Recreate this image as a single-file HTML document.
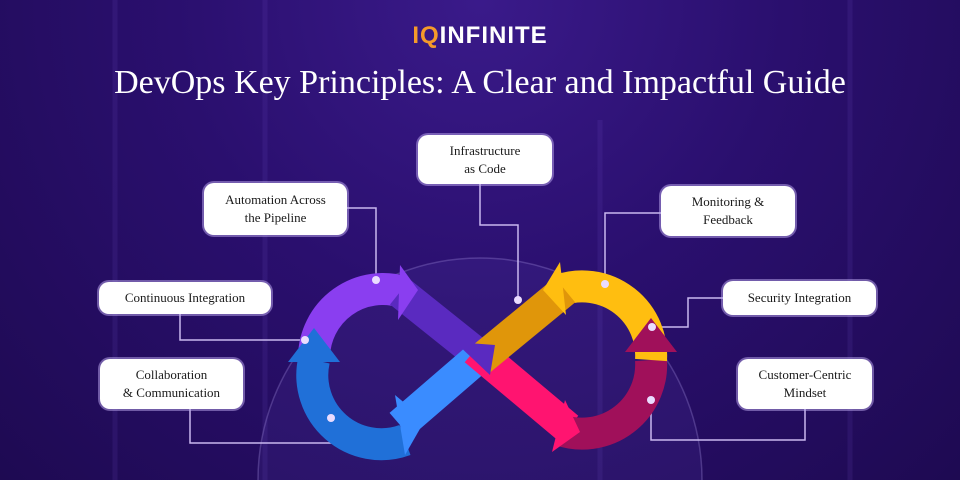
<!DOCTYPE html>
<html><head><meta charset="utf-8"><style>
html,body{margin:0;padding:0;overflow:hidden}
body{width:960px;height:480px;overflow:hidden;background:radial-gradient(ellipse at 50% 0%,#3a1a8a 0%,#2a0f6e 45%,#1e0a52 100%);position:relative;font-family:"Liberation Serif",serif}
.box{position:absolute;background:#fff;border-radius:10px;color:#1a1a1a;font-size:13px;line-height:18px;text-align:center;display:flex;align-items:center;justify-content:center;box-shadow:0 0 0 2px rgba(190,170,240,.5)}
.logo{position:absolute;top:22px;left:0;width:960px;text-align:center;font-family:"Liberation Sans",sans-serif;font-size:24px;letter-spacing:1px;color:#fff;font-weight:bold}
.title{position:absolute;top:64px;left:0;width:960px;text-align:center;color:#fff;font-size:34px;white-space:nowrap}
</style></head><body>
<svg width="960" height="480" style="position:absolute;left:0;top:0">
<g stroke="rgba(120,90,210,.12)" stroke-width="5">
<line x1="115" y1="0" x2="115" y2="480"/><line x1="265" y1="0" x2="265" y2="480"/><line x1="600" y1="120" x2="600" y2="480"/><line x1="850" y1="0" x2="850" y2="480"/>
</g>
<circle cx="480" cy="480" r="222" fill="rgba(110,80,200,.12)" stroke="rgba(170,150,230,.3)" stroke-width="1.5"/>
<g fill="none" stroke="#c9b8ef" stroke-width="1.5">
<polyline points="347,208 376,208 376,280"/>
<polyline points="480,184 480,225 518,225 518,300"/>
<polyline points="661,213 605,213 605,284"/>
<polyline points="180,314 180,340 305,340"/>
<polyline points="723,298 688,298 688,327 652,327"/>
<polyline points="190,409 190,443 331,443 331,418"/>
<polyline points="651,400 651,440 805,440 805,409"/>
</g>
<g fill="none" stroke-width="32">
<path d="M405 440 A69 69 0 0 1 314 360" stroke="#2070d8"/>
<path d="M314 356 A69 69 0 0 1 403 292" stroke="#8a3ef0"/>
<path d="M400 292 L485 360" stroke="#5a2ac0"/>
<path d="M480 356 L400 425" stroke="#3a8cff"/>
<path d="M475 350 L568 428" stroke="#ff1470"/>
<path d="M560 430 A69 69 0 0 0 651 360" stroke="#a0105a"/>
<path d="M651 360 A69 69 0 0 0 560 290" stroke="#ffbe10"/>
<path d="M565 290 L480 360" stroke="#e0960a"/>
</g>
<g>
<polygon points="288,362 340,362 314,328" fill="#2070d8"/>
<polygon points="400,265 418,290 398,320" fill="#8a3ef0"/>
<polygon points="455,342 495,345 490,375" fill="#5a2ac0"/>
<polygon points="395,395 425,420 405,455" fill="#3a8cff"/>
<polygon points="565,400 580,432 552,452" fill="#ff1470"/>
<polygon points="625,352 677,352 651,318" fill="#a0105a"/>
<polygon points="560,262 543,290 566,315" fill="#ffbe10"/>
</g>
<g fill="#eadcff">
<circle cx="376" cy="280" r="4"/><circle cx="518" cy="300" r="4"/><circle cx="605" cy="284" r="4"/><circle cx="305" cy="340" r="4"/><circle cx="652" cy="327" r="4"/><circle cx="331" cy="418" r="4"/><circle cx="651" cy="400" r="4"/>
</g>
</svg>
<div class="logo"><span style="color:#f59a2a">IQ</span>INFINITE</div>
<div class="title">DevOps Key Principles: A Clear and Impactful Guide</div>
<div class="box" style="left:418px;top:135px;width:134px;height:49px">Infrastructure<br>as Code</div>
<div class="box" style="left:204px;top:183px;width:143px;height:52px">Automation Across<br>the Pipeline</div>
<div class="box" style="left:661px;top:186px;width:134px;height:50px">Monitoring &amp;<br>Feedback</div>
<div class="box" style="left:99px;top:282px;width:172px;height:32px">Continuous Integration</div>
<div class="box" style="left:723px;top:281px;width:153px;height:34px">Security Integration</div>
<div class="box" style="left:100px;top:359px;width:143px;height:50px">Collaboration<br>&amp; Communication</div>
<div class="box" style="left:738px;top:359px;width:134px;height:50px">Customer-Centric<br>Mindset</div>
</body></html>
